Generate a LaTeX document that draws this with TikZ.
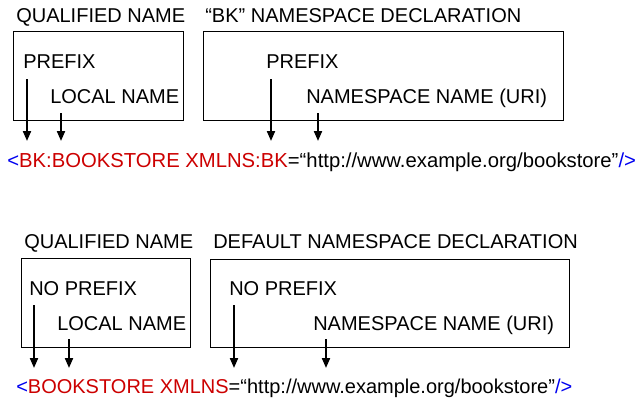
\documentclass[tikz,border=0pt]{standalone}
\usepackage{fontspec}
\setmainfont{Liberation Sans}
\usetikzlibrary{arrows.meta}
\definecolor{codered}{RGB}{204,0,0}
\definecolor{codeblue}{RGB}{0,0,240}
\begin{document}
\begin{tikzpicture}[x=0.75pt,y=-0.75pt,
  lbl/.style={anchor=base west,inner sep=0pt,font=\fontsize{15pt}{18pt}\selectfont},
  frame/.style={draw,line width=0.75pt},
  pointer/.style={line width=1.5pt,-{Triangle[length=7.5pt,width=6pt]}}]
\useasboundingbox (0,0) rectangle (641,415);
% ---------- top ----------
\node[lbl] (t1) at (16,22) {QUALIFIED NAME};
\node[lbl] (t2) at (205,22) {“BK” NAMESPACE DECLARATION};
\draw[frame] (13,31) rectangle (183,120);
\draw[frame] (203,31) rectangle (563,120);
\node[lbl] (p1) at (23,68) {PREFIX};
\node[lbl] (l1) at (50,103) {LOCAL NAME};
\node[lbl] (p2) at (266,68) {PREFIX};
\node[lbl] (u2) at (306,103) {NAMESPACE NAME (URI)};
\node[lbl,font=\fontsize{15.2pt}{18pt}\selectfont] (c1) at (7,167) {\textcolor{codeblue}{<}\textcolor{codered}{BK:BOOKSTORE XMLNS:BK}=“http://www.example.org/bookstore”\textcolor{codeblue}{/>}};
\coordinate (a1s) at (27,79);  \coordinate (a1e) at (27,141);
\coordinate (a2s) at (61,113); \coordinate (a2e) at (61,141);
\coordinate (a3s) at (271,79); \coordinate (a3e) at (271,141);
\coordinate (a4s) at (318,113);\coordinate (a4e) at (318,141);
\draw[pointer] (a1s) -- (a1e);
\draw[pointer] (a2s) -- (a2e);
\draw[pointer] (a3s) -- (a3e);
\draw[pointer] (a4s) -- (a4e);
% ---------- bottom ----------
\node[lbl] (t3) at (24,248) {QUALIFIED NAME};
\node[lbl] (t4) at (213,248) {DEFAULT NAMESPACE DECLARATION};
\draw[frame] (21,258) rectangle (190,347);
\draw[frame] (210,259) rectangle (569,347);
\node[lbl] (p3) at (29,295) {NO PREFIX};
\node[lbl] (l3) at (57,330) {LOCAL NAME};
\node[lbl] (p4) at (229,295) {NO PREFIX};
\node[lbl] (u4) at (313,330) {NAMESPACE NAME (URI)};
\node[lbl] (c2) at (16,393) {\textcolor{codeblue}{<}\textcolor{codered}{BOOKSTORE XMLNS}=“http://www.example.org/bookstore”\textcolor{codeblue}{/>}};
\coordinate (a5s) at (34,305);  \coordinate (a5e) at (34,368);
\coordinate (a6s) at (69,339);  \coordinate (a6e) at (69,368);
\coordinate (a7s) at (234,305); \coordinate (a7e) at (234,368);
\coordinate (a8s) at (326,339); \coordinate (a8e) at (326,368);
\draw[pointer] (a5s) -- (a5e);
\draw[pointer] (a6s) -- (a6e);
\draw[pointer] (a7s) -- (a7e);
\draw[pointer] (a8s) -- (a8e);
\end{tikzpicture}
\end{document}
